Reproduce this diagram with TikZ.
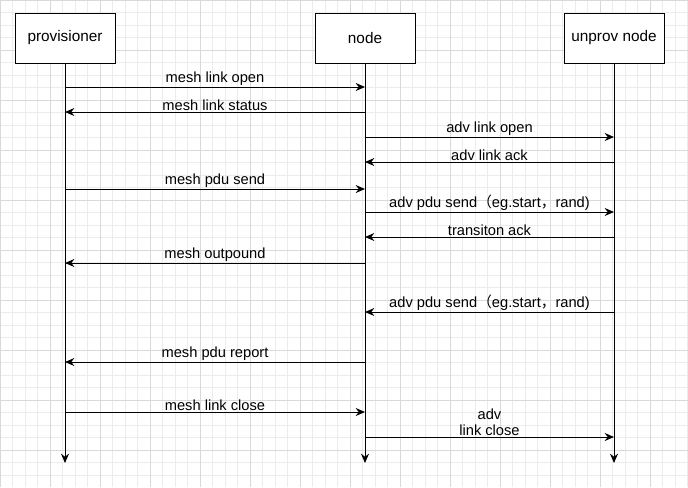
\documentclass[tikz,border=0pt]{standalone}
\usepackage{fontspec}
\setmainfont{Liberation Sans}
\newfontfamily\cjk{Noto Sans CJK SC}
\usetikzlibrary{arrows.meta}
\begin{document}
\begin{tikzpicture}[
        x=0.75pt, y=-0.75pt,
        actorNode/.style={rectangle, draw, line width=0.75pt, minimum width=75pt, minimum height=37.5pt, inner sep=0pt, fill=white, font=\fontsize{11.5}{13}\selectfont},
        msgLine/.style={-{Stealth[length=7pt,width=6pt]}, line width=0.75pt},
        msgLabel/.style={above, inner sep=1pt, font=\fontsize{11}{12}\selectfont, align=center}
    ]
        % Background grid
        \useasboundingbox (0,0) rectangle (688,487);
        \fill[white] (0,0) rectangle (688,487);
        \draw[gray!15, step=9.375pt] (0,0) grid (688,487);
        \draw[gray!30, step=37.5pt] (0,0) grid (688,487);

        % Actors
        \node[actorNode] (prov) at (65,38) {provisioner};
        \node[actorNode] (node) at (365,38) {node};
        \node[actorNode] (unprov) at (614,38) {unprov node};

        % Lifeline ends
        \coordinate (provEnd) at (65,463);
        \coordinate (nodeEnd) at (365,463);
        \coordinate (unprovEnd) at (614,463);
        \draw[msgLine] (prov) -- (provEnd);
        \draw[msgLine] (node) -- (nodeEnd);
        \draw[msgLine] (unprov) -- (unprovEnd);

        % Message points on the lifelines
        \foreach \i/\y in {1/87, 2/112, 3/137, 4/162, 5/189, 6/212, 7/237, 8/263, 9/312, 10/362, 11/412, 12/437} {
            \coordinate (p\i) at (65,\y);
            \coordinate (n\i) at (365,\y);
            \coordinate (u\i) at (614,\y);
        }

        % Messages
        \draw[msgLine] (p1) -- node[msgLabel] {mesh link open} (n1);
        \draw[msgLine] (n2) -- node[msgLabel] {mesh link status} (p2);
        \draw[msgLine] (n3) -- node[msgLabel] {adv link open} (u3);
        \draw[msgLine] (u4) -- node[msgLabel] {adv link ack} (n4);
        \draw[msgLine] (p5) -- node[msgLabel] {mesh pdu send} (n5);
        \draw[msgLine] (n6) -- node[msgLabel] {adv pdu send{\cjk （}eg.start{\cjk ，}rand)} (u6);
        \draw[msgLine] (u7) -- node[msgLabel] {transiton ack} (n7);
        \draw[msgLine] (n8) -- node[msgLabel] {mesh outpound} (p8);
        \draw[msgLine] (u9) -- node[msgLabel] {adv pdu send{\cjk （}eg.start{\cjk ，}rand)} (n9);
        \draw[msgLine] (n10) -- node[msgLabel] {mesh pdu report} (p10);
        \draw[msgLine] (p11) -- node[msgLabel] {mesh link close} (n11);
        \draw[msgLine] (n12) -- node[msgLabel] {adv\\link close} (u12);
    \end{tikzpicture}
\end{document}
